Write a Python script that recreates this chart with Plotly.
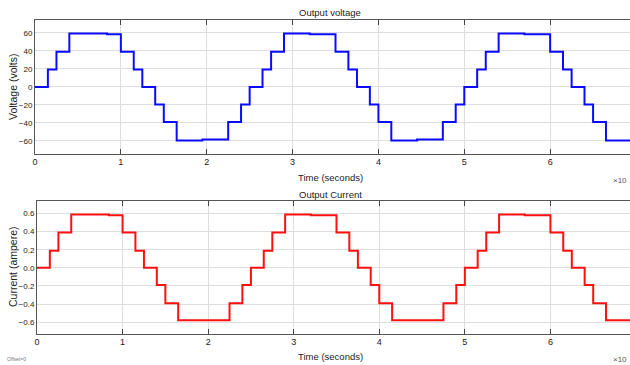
import plotly.graph_objects as go

# Step start times (x 10^-2 s) and levels
time_steps = [0, 0.15, 0.25, 0.40, 0.84, 1.00, 1.15, 1.25, 1.40, 1.50, 1.65, 1.95,
              2.25, 2.40, 2.50, 2.65, 2.75, 2.90, 3.20, 3.50, 3.65, 3.75, 3.90, 4.00,
              4.15, 4.45, 4.75, 4.90, 5.00, 5.15, 5.25, 5.40, 5.70, 6.00, 6.15, 6.25,
              6.40, 6.50, 6.65, 6.95]
voltage = [0, 19.5, 39, 59.5, 58.5, 39, 19.5, 0, -19.5, -39, -59.5, -58.5,
           -39, -19.5, 0, 19.5, 39, 59.5, 58.5, 39, 19.5, 0, -19.5, -39,
           -59.5, -58.5, -39, -19.5, 0, 19.5, 39, 59.5, 58.5, 39, 19.5,
           0, -19.5, -39, -59.5, -59.5]
current = [0, 0.19, 0.39, 0.59, 0.58, 0.39, 0.19, 0, -0.19, -0.39, -0.58, -0.58,
           -0.39, -0.19, 0, 0.19, 0.39, 0.59, 0.58, 0.39, 0.19, 0, -0.19, -0.39,
           -0.58, -0.58, -0.39, -0.19, 0, 0.19, 0.39, 0.59, 0.58, 0.39, 0.19,
           0, -0.19, -0.39, -0.58, -0.58]
x_ticks = [0, 1, 2, 3, 4, 5, 6]
v_ticks = [-60, -40, -20, 0, 20, 40, 60]
i_ticks = [-0.6, -0.4, -0.2, 0, 0.2, 0.4, 0.6]

W, H = 630, 365
font = "Liberation Sans, Arial, sans-serif"

fig = go.Figure()
fig.add_trace(go.Scatter(x=time_steps, y=voltage, mode="lines", line_shape="hv",
                         line=dict(color="#0a0aff", width=2), xaxis="x", yaxis="y",
                         showlegend=False))
fig.add_trace(go.Scatter(x=time_steps, y=current, mode="lines", line_shape="hv",
                         line=dict(color="#ff1010", width=2), xaxis="x2", yaxis="y2",
                         showlegend=False))

common_x = dict(range=[0, 6.93], tickvals=x_ticks, showgrid=True, gridcolor="#dedede",
                gridwidth=1, zeroline=False, showline=True, linecolor="#555555",
                linewidth=1, mirror="allticks", ticks="inside", ticklen=5,
                tickcolor="#444444", tickfont=dict(size=9, color="#222222", family=font),
                automargin=False)
common_y = dict(showgrid=True, gridcolor="#dedede", gridwidth=1, zeroline=False,
                showline=True, linecolor="#555555", linewidth=1, ticks="",
                tickfont=dict(size=8, color="#222222", family=font), automargin=False)

fig.update_layout(
    width=W, height=H,
    margin=dict(l=0, r=0, t=0, b=0),
    paper_bgcolor="white", plot_bgcolor="white",
    font=dict(family=font, color="#222222"),
    xaxis=dict(domain=[35 / W, 1], anchor="y", **common_x),
    yaxis=dict(domain=[1 - 153.5 / H, 1 - 20 / H], anchor="x", range=[-74, 74.4],
               tickvals=v_ticks, **common_y),
    xaxis2=dict(domain=[37 / W, 1], anchor="y2", **common_x),
    yaxis2=dict(domain=[1 - 333.5 / H, 1 - 200.5 / H], anchor="x2", range=[-0.725, 0.744],
                tickvals=i_ticks, tickformat=".1f", **common_y),
)

ann = [
    dict(text="Output voltage", x=330, y=13),
    dict(text="Time (seconds)", x=330, y=177),
    dict(text="Output Current", x=330, y=194),
    dict(text="Time (seconds)", x=330, y=356),
]
for a in ann:
    fig.add_annotation(text=a["text"], x=a["x"] / W, y=1 - a["y"] / H, xref="paper",
                       yref="paper", showarrow=False, xanchor="center", yanchor="middle",
                       font=dict(size=9.5, color="#222222", family=font))
for text, yy in (("Voltage (volts)", 87), ("Current (ampere)", 267)):
    fig.add_annotation(text=text, x=13 / W, y=1 - yy / H, xref="paper", yref="paper",
                       showarrow=False, xanchor="center", yanchor="middle", textangle=-90,
                       font=dict(size=10.5, color="#222222", family=font))
for yy in (180, 359):
    fig.add_annotation(text="×10", x=629 / W, y=1 - yy / H, xref="paper", yref="paper",
                       showarrow=False, xanchor="right", yanchor="middle",
                       font=dict(size=8, color="#555555", family=font))
fig.add_annotation(text="Offset=0", x=5 / W, y=1 - 359 / H, xref="paper", yref="paper",
                   showarrow=False, xanchor="left", yanchor="middle",
                   font=dict(size=5, color="#777777", family=font))

fig.write_html("out.html", config={"displayModeBar": False},
               post_script="document.body.style.margin='0';document.body.style.overflow='hidden';")
